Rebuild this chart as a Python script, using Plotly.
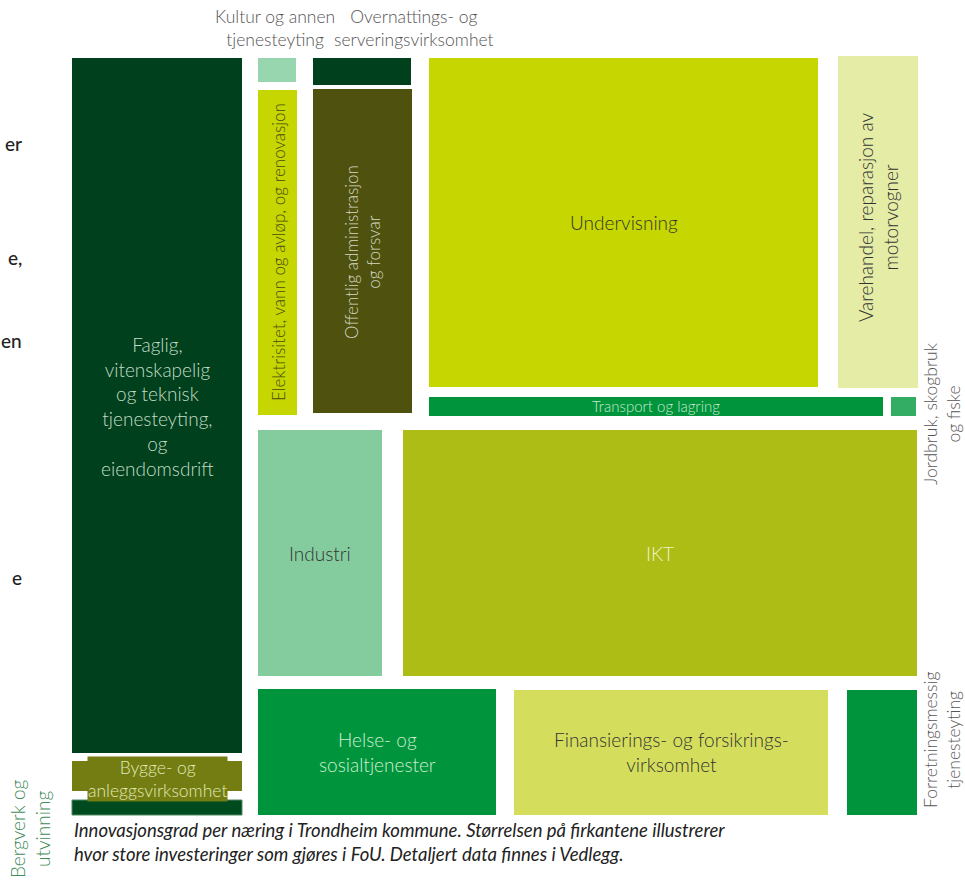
import plotly.graph_objects as go

# Sectors (treemap cells): extents in layout units
sectors = ["Faglig", "Bygge", "Bergverk", "Kultur", "Overnatting", "Elektrisitet",
           "Offentlig", "Undervisning", "Varehandel", "Transport", "Jordbruk",
           "Industri", "IKT", "Helse", "Finans", "Forretning"]
x_start = [72, 72, 72, 258, 313, 258, 313, 429, 838, 429, 891, 258, 403, 258, 514, 847]
x_end   = [242, 242, 242, 296, 411, 297, 412, 818, 918, 883, 916, 382, 917, 496, 828, 917]
y_start = [58, 761, 800, 58, 58, 90, 89, 58, 56, 397, 397, 430, 430, 689, 690, 690]
y_end   = [753, 791, 815, 82, 85, 415, 413, 387, 388, 416, 416, 676, 676, 815, 815, 815]
fill_colors = ["#00401d", "#737d12", "#004a1f", "#98d6b0", "#00401d", "#c5d600",
               "#4e520e", "#c5d600", "#e5eca6", "#00953c", "#33ad64",
               "#84cc9e", "#adbd16", "#00953c", "#d4de5c", "#00953c"]

fig = go.Figure()
for n, x0, x1, y0, y1, c in zip(sectors, x_start, x_end, y_start, y_end, fill_colors):
    border = dict(width=1, color="#4f8a60") if n == "Bergverk" else dict(width=0, color=c)
    fig.add_trace(go.Scatter(
        x=[x0, x1, x1, x0, x0], y=[y0, y0, y1, y1, y0],
        fill="toself", fillcolor=c, mode="lines", line=border,
        name=n, hoverinfo="name"))

FONT = "Lato"
W = 300

# inside labels: text, x, y, size, color, angle
inner_labels = [
    ("Faglig,<br>vitenskapelig<br>og teknisk<br>tjenesteyting,<br>og<br>eiendomsdrift", 157, 406, 19, "#c3dcc5", 0),
    ("Undervisning", 624, 222, 19, "#333333", 0),
    ("Varehandel, reparasjon av<br>motorvogner", 878, 218, 19, "#333333", -90),
    ("Elektrisitet, vann og avløp, og renovasjon", 278, 252, 17, "#4a4a10", -90),
    ("Offentlig administrasjon<br>og forsvar", 362, 252, 17, "#d6d8c4", -90),
    ("Transport og lagring", 656, 406, 15, "#c8ead0", 0),
    ("Industri", 320, 553, 19, "#333333", 0),
    ("IKT", 660, 553, 19, "#eef3c8", 0),
    ("Helse- og<br>sosialtjenester", 377, 752, 19, "#cdeed3", 0),
    ("Finansierings- og forsikrings-<br>virksomhet", 671, 752, 19, "#333333", 0),
]
for t, x, y, s, c, a in inner_labels:
    fig.add_annotation(x=x, y=y, xref="x", yref="y", text=t, showarrow=False,
                       textangle=a, font=dict(family=FONT, size=s, color=c, weight=W),
                       align="center")

fig.add_annotation(x=157, y=779, xref="x", yref="y", text="Bygge- og<br>anleggsvirksomhet",
                   showarrow=False, font=dict(family=FONT, size=17.5, color="#e2eab8", weight=W),
                   bgcolor="#737d12", borderpad=0, align="center")

# outside labels
outer_labels = [
    ("Kultur og annen<br>tjenesteyting", 275, 28, 17.5, "#555555", 0),
    ("Overnattings- og<br>serveringsvirksomhet", 414, 28, 17.5, "#555555", 0),
    ("Jordbruk, skogbruk<br>og fiske", 942, 414, 17.5, "#555555", -90),
    ("Forretningsmessig<br>tjenesteyting", 942, 740, 17.5, "#555555", -90),
    ("Bergverk og<br>utvinning", 30, 829, 19, "#3f8a58", -90),
]
for t, x, y, s, c, a in outer_labels:
    fig.add_annotation(x=x, y=y, xref="x", yref="y", text=t, showarrow=False,
                       textangle=a, font=dict(family=FONT, size=s, color=c, weight=W),
                       align="center")

# caption
fig.add_annotation(x=72, y=842, xref="x", yref="y", xanchor="left",
                   text="<i>Innovasjonsgrad per næring i Trondheim kommune. Størrelsen på firkantene illustrerer<br>hvor store investeringer som gjøres i FoU. Detaljert data finnes i Vedlegg.</i>",
                   showarrow=False, align="left",
                   font=dict(family=FONT, size=18.5, color="#222222", weight=400))

# fragments of surrounding page text at the left edge
fragments = [("er", 143), ("e,", 257), ("en", 340), ("e", 577)]
for t, y in fragments:
    fig.add_annotation(x=24, y=y, xref="x", yref="y", xanchor="right", text=t,
                       showarrow=False, font=dict(family=FONT, size=19, color="#222222", weight=500))

fig.update_layout(
    width=965, height=884, margin=dict(l=0, r=0, t=0, b=0),
    paper_bgcolor="white", plot_bgcolor="white", showlegend=False,
    xaxis=dict(range=[0, 965], visible=False, fixedrange=True),
    yaxis=dict(range=[884, 0], visible=False, fixedrange=True),
)

fig.write_html("out.html")
